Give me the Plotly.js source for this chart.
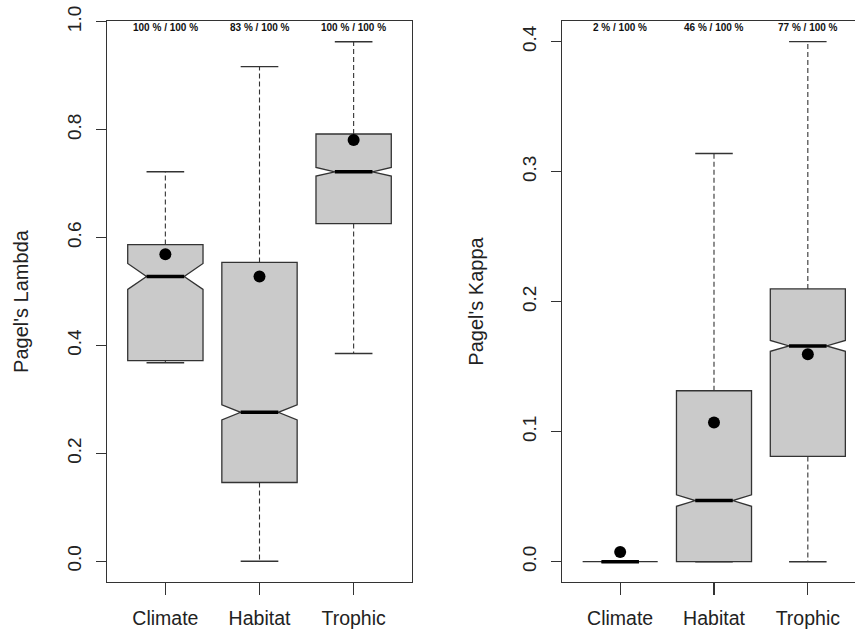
<!DOCTYPE html>
<html><head><meta charset="utf-8">
<script src="https://cdn.plot.ly/plotly-3.0.1.min.js"></script>
<style>html,body{margin:0;padding:0;overflow:hidden;background:#fff}#chart{width:870px;height:629px}</style>
</head><body><div id="chart"></div><script>
const categories = ['Climate', 'Habitat', 'Trophic'];
const positions = [1, 2, 3];

// Pagel's Lambda
const lambdaLower  = [0.368, 0.000, 0.385];
const lambdaQ1     = [0.372, 0.146, 0.626];
const lambdaMedian = [0.528, 0.276, 0.722];
const lambdaQ3     = [0.587, 0.554, 0.792];
const lambdaUpper  = [0.722, 0.917, 0.963];
const lambdaNotch  = [0.024, 0.014, 0.008];
const lambdaMean   = [0.569, 0.528, 0.781];
const lambdaLabels = ['100 % / 100 %', '83 % / 100 %', '100 % / 100 %'];

// Pagel's Kappa
const kappaLower  = [0.000, 0.000, 0.000];
const kappaQ1     = [0.000, 0.000, 0.081];
const kappaMedian = [0.000, 0.047, 0.166];
const kappaQ3     = [0.000, 0.1315, 0.2098];
const kappaUpper  = [0.000, 0.314, 0.400];
const kappaNotch  = [0.000, 0.0044, 0.0042];
const kappaMean   = [0.0075, 0.107, 0.1595];
const kappaLabels = ['2 % / 100 %', '46 % / 100 %', '77 % / 100 %'];

const LINE = '#333333';
const FILL = '#cacaca';
const FONT = 'Liberation Sans, Arial, sans-serif';
const BOXW = 0.8;
const HALF = 0.2;

function panel(xa, ya, lo, q1, med, q3, up, notch, mean) {
  const wx = [], wy = [], cx = [], cy = [], mx = [], my = [];
  positions.forEach((p, i) => {
    wx.push(p, p, null, p, p, null);
    wy.push(q3[i], up[i], null, q1[i], lo[i], null);
    cx.push(p - HALF, p + HALF, null, p - HALF, p + HALF, null);
    cy.push(up[i], up[i], null, lo[i], lo[i], null);
    mx.push(p - HALF, p + HALF, null);
    my.push(med[i], med[i], null);
  });
  return [
    {type: 'scatter', mode: 'lines', xaxis: xa, yaxis: ya, x: wx, y: wy,
     line: {color: LINE, width: 1.1, dash: '5px,3px'}, hoverinfo: 'skip', showlegend: false},
    {type: 'scatter', mode: 'lines', xaxis: xa, yaxis: ya, x: cx, y: cy,
     line: {color: LINE, width: 1.4}, hoverinfo: 'skip', showlegend: false},
    {type: 'box', xaxis: xa, yaxis: ya, x: positions, q1: q1, median: med, q3: q3,
     lowerfence: q1, upperfence: q3, notched: true, notchspan: notch, notchwidth: 0.25,
     width: BOXW, whiskerwidth: 0, boxpoints: false, fillcolor: FILL,
     line: {color: LINE, width: 1.3}, showlegend: false},
    {type: 'scatter', mode: 'lines', xaxis: xa, yaxis: ya, x: mx, y: my,
     line: {color: '#000', width: 3.5}, hoverinfo: 'skip', showlegend: false},
    {type: 'scatter', mode: 'markers', xaxis: xa, yaxis: ya, x: positions, y: mean,
     marker: {color: '#000', size: 12}, showlegend: false}
  ];
}

const data = [].concat(
  panel('x', 'y', lambdaLower, lambdaQ1, lambdaMedian, lambdaQ3, lambdaUpper, lambdaNotch, lambdaMean),
  panel('x2', 'y2', kappaLower, kappaQ1, kappaMedian, kappaQ3, kappaUpper, kappaNotch, kappaMean)
);

const xCommon = {
  range: [0.38, 3.62], tickvals: positions, ticktext: categories,
  ticks: 'outside', ticklen: 12, tickcolor: LINE, tickwidth: 1.2,
  showline: true, mirror: true, linecolor: LINE, linewidth: 1.3,
  showgrid: false, zeroline: false, ticklabelstandoff: 6,
  tickfont: {family: FONT, size: 19.5, color: '#222'}
};
const yCommon = {
  ticks: 'outside', ticklen: 10, tickcolor: LINE, tickwidth: 1.2, tickangle: -90,
  showline: true, mirror: true, linecolor: LINE, linewidth: 1.3,
  showgrid: false, zeroline: false, tickformat: '.1f', ticklabelstandoff: 7,
  tickfont: {family: FONT, size: 19, color: '#222'}
};
const titleFont = {family: FONT, size: 20, color: '#222'};

const annotations = [];
positions.forEach((p, i) => {
  annotations.push({xref: 'x', yref: 'paper', x: p, y: 0.9884, text: lambdaLabels[i], showarrow: false,
    xanchor: 'center', yanchor: 'middle', font: {family: FONT, size: 10, color: '#111', weight: 'bold'}});
  annotations.push({xref: 'x2', yref: 'paper', x: p, y: 0.9884, text: kappaLabels[i], showarrow: false,
    xanchor: 'center', yanchor: 'middle', font: {family: FONT, size: 10, color: '#111', weight: 'bold'}});
});

const layout = {
  width: 870, height: 629,
  margin: {l: 107, r: 4, t: 21, b: 47},
  paper_bgcolor: '#fff', plot_bgcolor: '#fff',
  showlegend: false,
  xaxis: Object.assign({}, xCommon, {domain: [0, 0.40184], anchor: 'y'}),
  xaxis2: Object.assign({}, xCommon, {domain: [0.59947, 1], anchor: 'y2'}),
  yaxis: Object.assign({}, yCommon, {range: [-0.0385, 1.0015], tickvals: [0, 0.2, 0.4, 0.6, 0.8, 1.0],
    anchor: 'x', title: {text: "Pagel's Lambda", standoff: 30, font: titleFont}}),
  yaxis2: Object.assign({}, yCommon, {range: [-0.0156, 0.4159], tickvals: [0, 0.1, 0.2, 0.3, 0.4],
    anchor: 'x2', title: {text: "Pagel's Kappa", standoff: 30, font: titleFont}}),
  annotations: annotations
};

Plotly.newPlot('chart', data, layout, {displayModeBar: false, staticPlot: true});
</script></body></html>
